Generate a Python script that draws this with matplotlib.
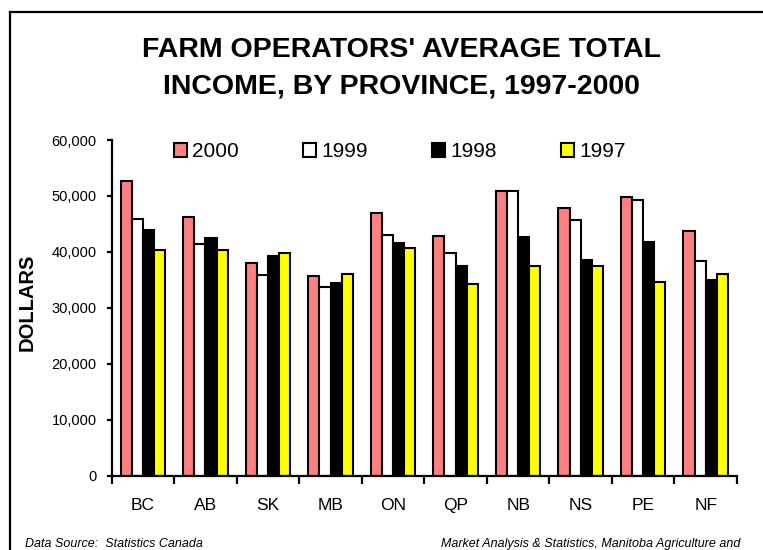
import matplotlib
matplotlib.use("Agg")
import matplotlib.pyplot as plt
import numpy as np
from matplotlib.lines import Line2D
from matplotlib.ticker import FuncFormatter, FixedLocator

plt.rcParams['font.family'] = ['Liberation Sans', 'DejaVu Sans']

provinces = ["BC", "AB", "SK", "MB", "ON", "QP", "NB", "NS", "PE", "NF"]
years = ["2000", "1999", "1998", "1997"]
v2000 = [52700, 46300, 38000, 35700, 46900, 42800, 50800, 47800, 49800, 43700]
v1999 = [45900, 41400, 35900, 33700, 43000, 39800, 50800, 45700, 49200, 38400]
v1998 = [43900, 42400, 39300, 34400, 41600, 37400, 42700, 38600, 41800, 34900]
v1997 = [40300, 40400, 39800, 36000, 40600, 34300, 37500, 37500, 34600, 36100]
colors = ["#FF8080", "#FFFFFF", "#000000", "#FFFF00"]
yticks = [0, 10000, 20000, 30000, 40000, 50000, 60000]

W, H = 763, 550
fig = plt.figure(figsize=(W / 100, H / 100), dpi=100)
ax = fig.add_axes([111.7 / W, (H - 475.5) / H, (737 - 111.7) / W, (475.5 - 140) / H])

series = [v2000, v1999, v1998, v1997]
x = np.arange(len(provinces))
bw = 0.178
for i, (vals, col, yr) in enumerate(zip(series, colors, years)):
    ax.bar(x + (i - 1.5) * bw, vals, width=bw, color=col, edgecolor="black",
           linewidth=1.5, label=yr)

ax.set_xlim(-0.5, len(provinces) - 0.5)
ax.set_ylim(0, 60000)
ax.set_yticks(yticks)
ax.yaxis.set_major_formatter(FuncFormatter(lambda v, p: f"{int(v):,}"))
ax.set_xticks(x)
ax.set_xticklabels(provinces)
ax.xaxis.set_minor_locator(FixedLocator(np.arange(-0.5, len(provinces), 1.0)))
ax.tick_params(axis="x", which="major", length=0, pad=16, labelsize=12.5)
ax.tick_params(axis="x", which="minor", length=5.5, width=1.6, direction="out")
ax.tick_params(axis="y", which="major", length=3.8, width=1.6, direction="out",
               pad=7, labelsize=10.5)
for s in ["top", "right"]:
    ax.spines[s].set_visible(False)
for s in ["left", "bottom"]:
    ax.spines[s].set_linewidth(1.6)

leg = ax.legend(loc="center left", bbox_to_anchor=(174 / W, 1 - 151.6 / H),
                bbox_transform=fig.transFigure, ncol=4, frameon=False,
                fontsize=15, handlelength=0.64, handleheight=0.64,
                handletextpad=0.24, columnspacing=3.07, borderpad=0,
                borderaxespad=0)

fig.text(401 / W, 1 - 56.7 / H, "FARM OPERATORS' AVERAGE TOTAL", ha="center",
         va="baseline", fontsize=20.5, fontweight="bold")
fig.text(401 / W, 1 - 94 / H, "INCOME, BY PROVINCE, 1997-2000", ha="center",
         va="baseline", fontsize=20.5, fontweight="bold")
fig.text(26.7 / W, 1 - 302.5 / H, "DOLLARS", rotation=90, ha="center",
         va="center", fontsize=14.5, fontweight="bold")
fig.text(25 / W, 1 - 547 / H, "Data Source:  Statistics Canada", ha="left",
         va="baseline", fontsize=9, style="italic")
fig.text(740 / W, 1 - 546.7 / H, "Market Analysis & Statistics, Manitoba Agriculture and",
         ha="right", va="baseline", fontsize=9, style="italic")

# outer frame (top and left edges visible)
fig.add_artist(Line2D([10 / W, 10 / W], [0, 1 - 11.7 / H], color="black",
                      linewidth=1.6, transform=fig.transFigure))
fig.add_artist(Line2D([10 / W, 1.0], [1 - 11.7 / H, 1 - 11.7 / H], color="black",
                      linewidth=1.6, transform=fig.transFigure))

fig.savefig("out.png", dpi=100)
